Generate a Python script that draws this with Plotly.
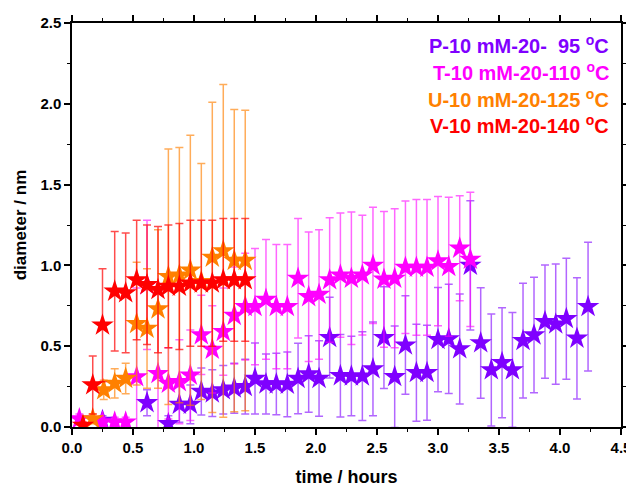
import plotly.graph_objects as go

# ---- data ----
p_x = [0.25, 0.615, 0.79, 0.88, 0.97, 1.06, 1.15, 1.24, 1.33, 1.42, 1.50, 1.59, 1.675, 1.765, 1.853, 1.94,
       2.025, 2.112, 2.2, 2.29, 2.38, 2.467, 2.557, 2.645, 2.733, 2.823, 2.91, 3.0, 3.088, 3.178, 3.265,
       3.35, 3.437, 3.525, 3.61, 3.697, 3.787, 3.877, 3.965, 4.052, 4.139, 4.23]
p_y = [0.04, 0.15, 0.02, 0.14, 0.14, 0.22, 0.21, 0.23, 0.24, 0.25, 0.30, 0.266, 0.266, 0.264, 0.30, 0.328,
       0.30, 0.553, 0.317, 0.315, 0.315, 0.359, 0.553, 0.311, 0.507, 0.336, 0.336, 0.541, 0.545, 0.483, 1.0,
       0.52, 0.353, 0.398, 0.353, 0.534, 0.569, 0.652, 0.637, 0.67, 0.549, 0.745]
p_err = [0.03, 0.08, 0.05, 0.11, 0.12, 0.145, 0.145, 0.15, 0.155, 0.17, 0.22, 0.185, 0.19, 0.20, 0.218, 0.237,
         0.234, 0.25, 0.255, 0.246, 0.275, 0.29, 0.315, 0.314, 0.305, 0.30, 0.294, 0.323, 0.338, 0.34, 0.40,
         0.342, 0.347, 0.34, 0.355, 0.355, 0.357, 0.35, 0.372, 0.374, 0.375, 0.398]

t_x = [0.06, 0.25, 0.35, 0.44, 0.53, 0.615, 0.705, 0.79, 0.88, 0.97, 1.06, 1.15, 1.24, 1.33, 1.42, 1.50,
       1.59, 1.675, 1.765, 1.853, 1.94, 2.025, 2.112, 2.2, 2.29, 2.38, 2.467, 2.557, 2.645, 2.733, 2.823,
       2.91, 3.0, 3.088, 3.178, 3.265]
t_y = [0.05, 0.03, 0.03, 0.03, 0.31, 0.88, 0.33, 0.27, 0.28, 0.32, 0.57, 0.48, 0.59, 0.69, 0.745, 0.745,
       0.79, 0.745, 0.745, 0.92, 0.806, 0.82, 0.91, 0.94, 0.92, 0.94, 1.0, 0.914, 0.92, 0.988, 0.988,
       0.988, 1.027, 0.992, 1.106, 1.037]
t_err = [0.03, 0.03, 0.03, 0.03, 0.55, 0.40, 0.50, 0.22, 0.26, 0.28, 0.245, 0.27, 0.27, 0.30, 0.33, 0.36,
         0.37, 0.385, 0.385, 0.37, 0.40, 0.40, 0.385, 0.385, 0.41, 0.37, 0.36, 0.42, 0.43, 0.41, 0.42,
         0.42, 0.40, 0.43, 0.325, 0.415]

u_x = [0.17, 0.26, 0.35, 0.44, 0.53, 0.615, 0.705, 0.79, 0.88, 0.97, 1.06, 1.15, 1.24, 1.33, 1.42]
u_y = [0.05, 0.23, 0.27, 0.30, 0.64, 0.61, 0.73, 0.93, 0.94, 0.97, 0.90, 1.05, 1.09, 1.03, 1.03]
u_err = [0.03, 0.06, 0.09, 0.095, 0.38, 0.37, 0.49, 0.79, 0.79, 0.835, 0.73, 0.96, 1.03, 0.935, 0.93]

v_x = [0.09, 0.17, 0.25, 0.35, 0.44, 0.53, 0.615, 0.705, 0.79, 0.88, 0.97, 1.06, 1.15, 1.24, 1.33, 1.42]
v_y = [0.01, 0.26, 0.63, 0.84, 0.83, 0.91, 0.88, 0.85, 0.87, 0.87, 0.89, 0.89, 0.89, 0.91, 0.91, 0.91]
v_err = [0.02, 0.18, 0.35, 0.37, 0.37, 0.37, 0.37, 0.39, 0.38, 0.39, 0.39, 0.39, 0.39, 0.38, 0.38, 0.38]

labels = ["P-10 mM-20-\u00a0\u00a095 <sup>o</sup>C", "T-10 mM-20-110 <sup>o</sup>C",
          "U-10 mM-20-125 <sup>o</sup>C", "V-10 mM-20-140 <sup>o</sup>C"]
colors = ["#7F00FF", "#FF00FF", "#FF8000", "#FF0000"]
err_colors = ["rgba(127,0,255,0.6)", "rgba(255,0,255,0.6)", "rgba(255,128,0,0.65)", "rgba(255,0,0,0.7)"]

series = [(p_x, p_y, p_err), (t_x, t_y, t_err), (u_x, u_y, u_err), (v_x, v_y, v_err)]

fig = go.Figure()
for (xs, ys, es), c, ec in zip(series, colors, err_colors):
    fig.add_trace(go.Scatter(
        x=xs, y=ys, mode="markers",
        marker=dict(symbol="star", size=17, color=c, line=dict(width=0)),
        error_y=dict(type="data", array=es, visible=True, color=ec, thickness=1.5, width=4),
        showlegend=False, cliponaxis=True))

font_fam = "Liberation Sans, Arial, sans-serif"
axis_common = dict(
    showline=True, linecolor="black", linewidth=1.5, mirror="allticks",
    ticks="outside", ticklen=6, tickwidth=1.5, tickcolor="black",
    showgrid=False, zeroline=False, automargin=False,
    tickfont=dict(family=font_fam, size=15, color="black", weight="bold"),
    minor=dict(ticks="outside", ticklen=3.5, tickwidth=1.2, tickcolor="black", dtick=0.25, showgrid=False),
)

fig.update_xaxes(range=[0, 4.5], dtick=0.5, tick0=0, tickformat=".1f",
                 title=dict(text="time / hours", font=dict(family=font_fam, size=18, color="black", weight="bold"), standoff=16),
                 **axis_common)
fig.update_yaxes(range=[0, 2.5], dtick=0.5, tick0=0, tickformat=".1f",
                 title=dict(text="diameter / nm", font=dict(family=font_fam, size=17, color="black", weight="bold"), standoff=9),
                 **axis_common)

leg_y = [0.948, 0.881, 0.814, 0.750]
for lab, c, yy in zip(labels, colors, leg_y):
    fig.add_annotation(text=lab, x=0.982, y=yy, xref="paper", yref="paper",
                       xanchor="right", yanchor="middle", showarrow=False,
                       font=dict(family=font_fam, size=20, color=c, weight="bold"))

# page body has an 8px margin, so the figure is sized to fit the window after that offset
fig.update_layout(width=626, height=481, margin=dict(l=64, r=13, t=15, b=62),
                  plot_bgcolor="white", paper_bgcolor="white")

fig.write_html("out.html")
